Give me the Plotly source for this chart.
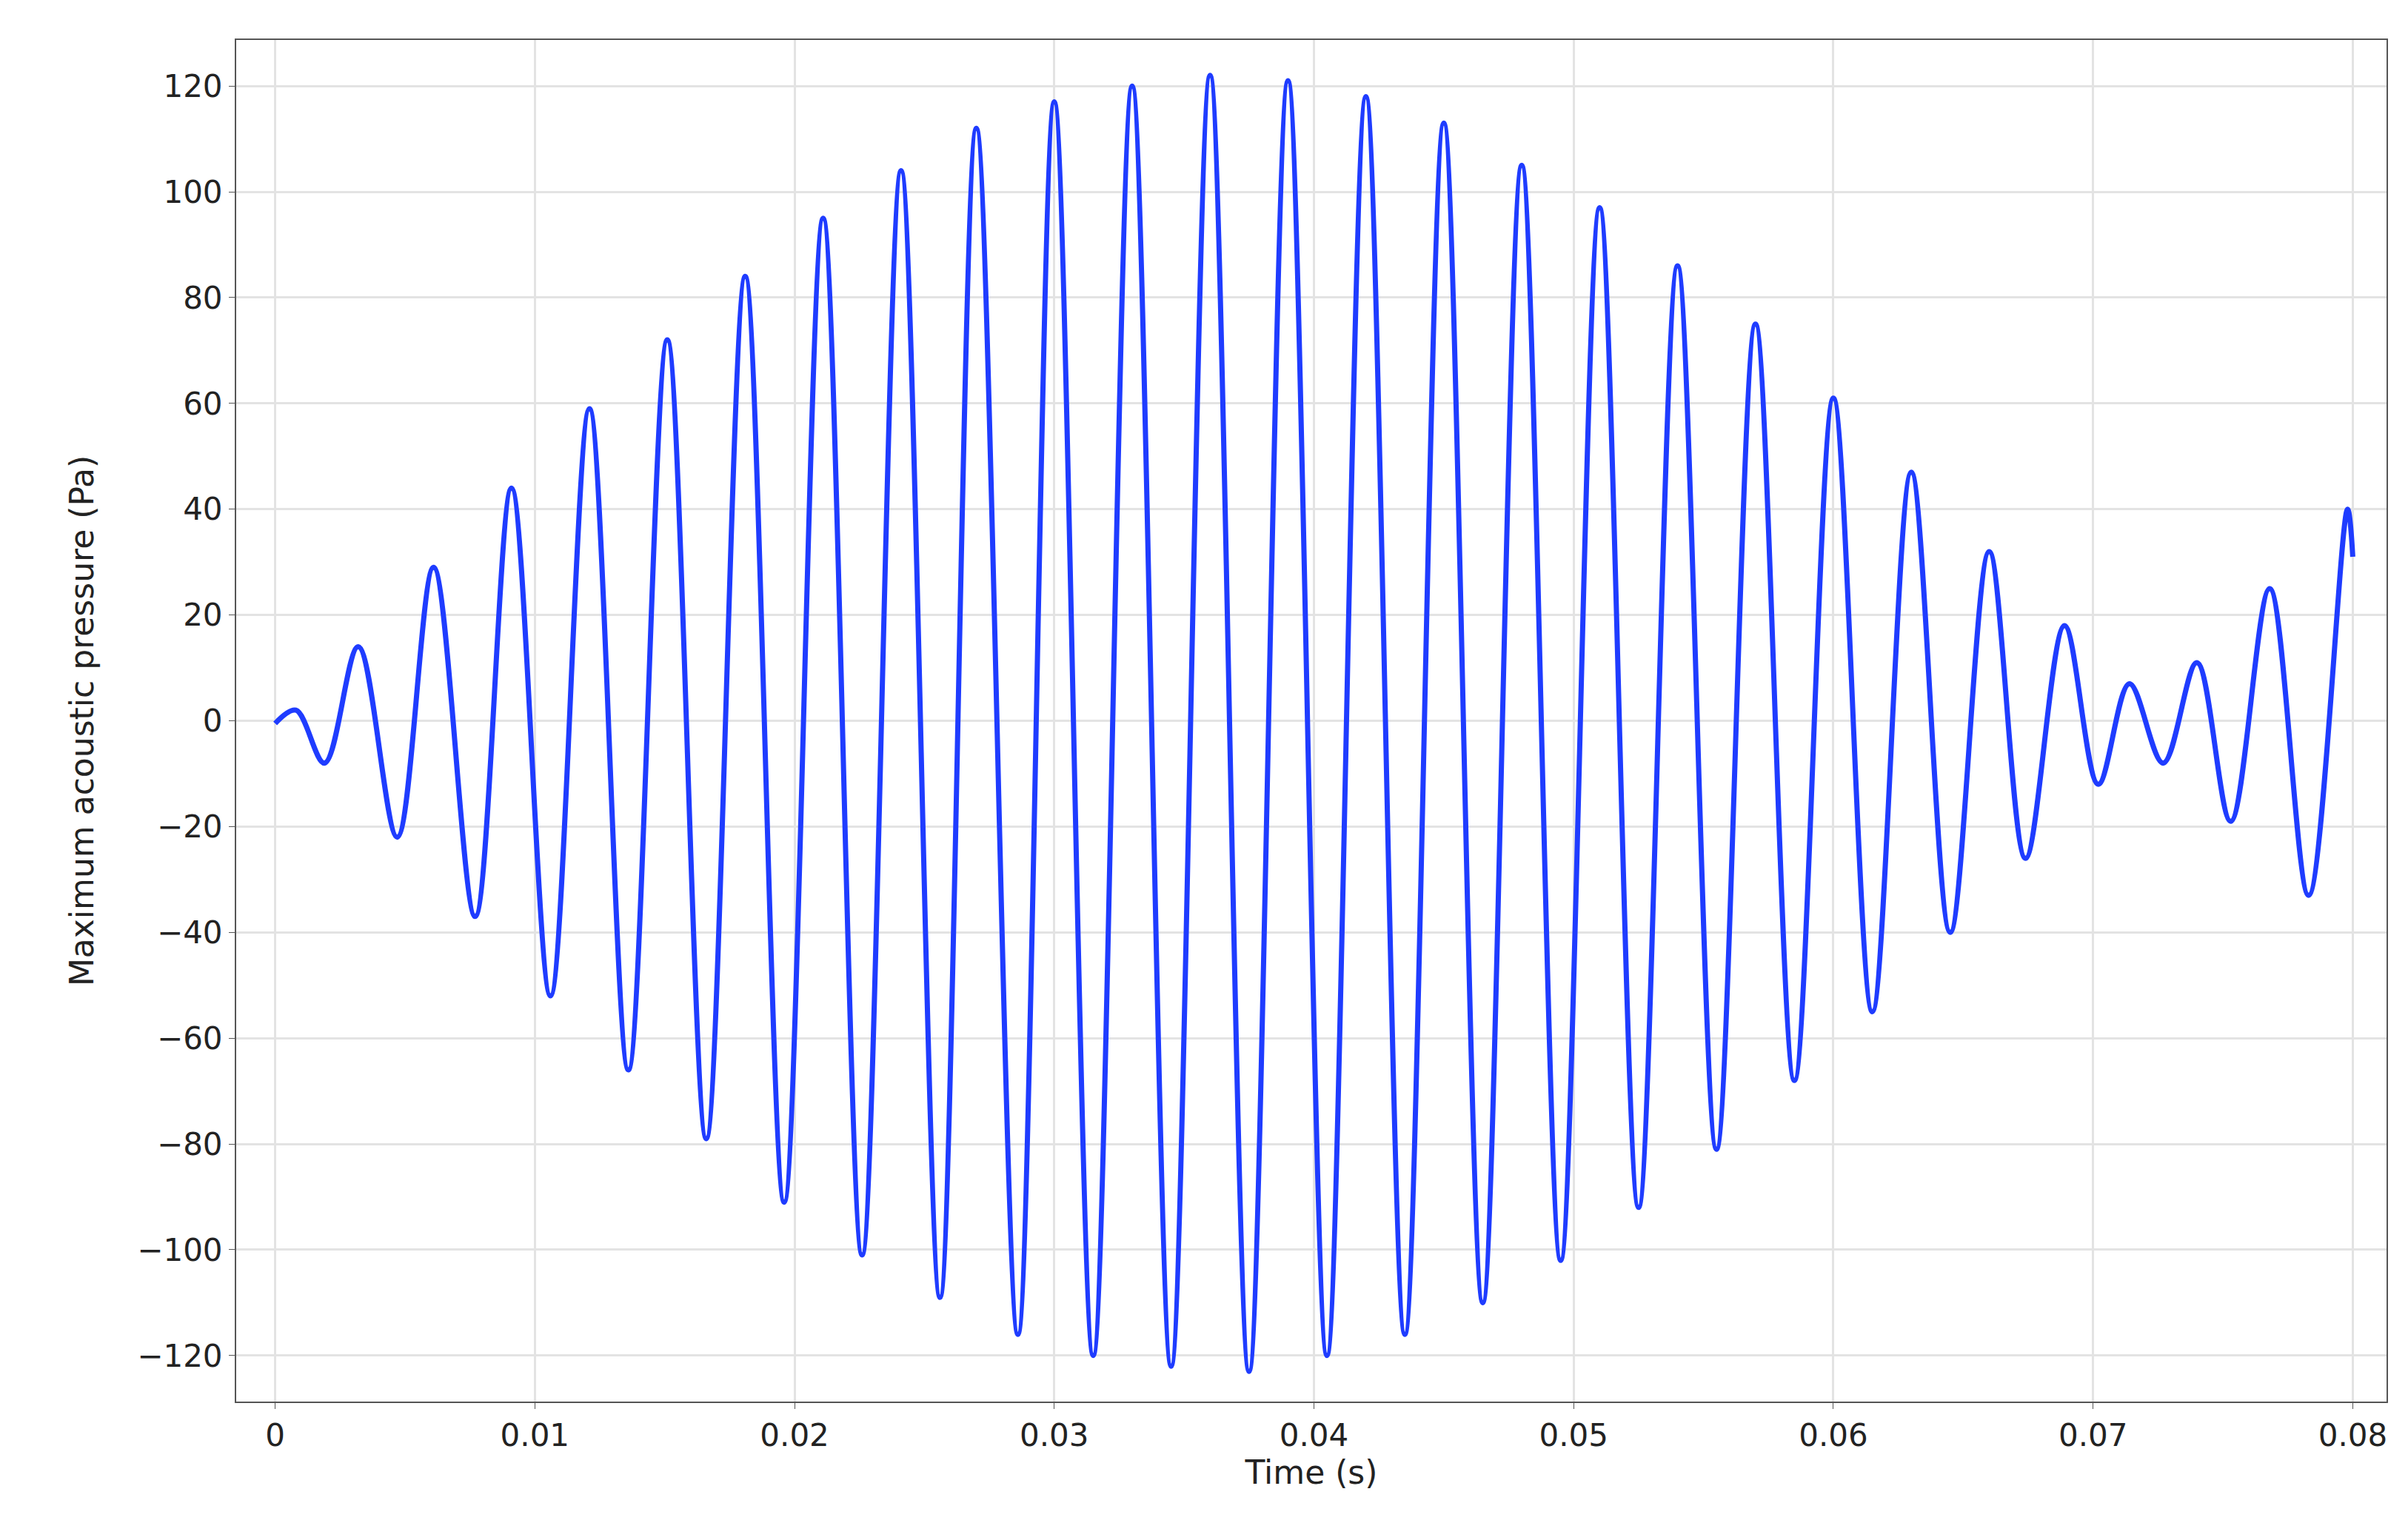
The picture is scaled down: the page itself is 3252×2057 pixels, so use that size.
import plotly.graph_objects as go

# extrema (time in s, pressure in Pa)
peak_t = [0.0008, 0.0032, 0.0061, 0.0091, 0.0121, 0.0151, 0.0181, 0.0211, 0.0241, 0.0270,
          0.0300, 0.0330, 0.0360, 0.0390, 0.0420, 0.0450, 0.0480, 0.0510, 0.0540, 0.0570,
          0.0600, 0.0630, 0.0660, 0.0689, 0.0714, 0.0740, 0.0768, 0.0798]
peak_p = [2, 14, 29, 44, 59, 72, 84, 95, 104, 112,
          117, 120, 122, 121, 118, 113, 105, 97, 86, 75,
          61, 47, 32, 18, 7, 11, 25, 40]
trough_t = [0.0, 0.0019, 0.0047, 0.0077, 0.0106, 0.0136, 0.0166, 0.0196, 0.0226, 0.0256,
            0.0286, 0.0315, 0.0345, 0.0375, 0.0405, 0.0435, 0.0465, 0.0495, 0.0525, 0.0555,
            0.0585, 0.0615, 0.0645, 0.0674, 0.0702, 0.0727, 0.0753, 0.0783]
trough_p = [-0.5, -8, -22, -37, -52, -66, -79, -91, -101, -109,
            -116, -120, -122, -123, -120, -116, -110, -102, -92, -81,
            -68, -55, -40, -26, -12, -8, -19, -33]
end_t = [0.0800]
end_p = [31]

x_ticks = [0, 0.01, 0.02, 0.03, 0.04, 0.05, 0.06, 0.07, 0.08]
x_labels = ["0", "0.01", "0.02", "0.03", "0.04", "0.05", "0.06", "0.07", "0.08"]
y_ticks = [-120, -100, -80, -60, -40, -20, 0, 20, 40, 60, 80, 100, 120]

pts = sorted(zip(peak_t + trough_t + end_t, peak_p + trough_p + end_p))
t = [a for a, b in pts]
p = [b for a, b in pts]

fig = go.Figure(go.Scatter(x=t, y=p, mode="lines", line=dict(color="#1f3cff", width=7, shape="spline", smoothing=1.0)))

axis_common = dict(showline=True, linecolor="#555", linewidth=2, mirror=True,
                   showgrid=True, gridcolor="#e3e3e3", gridwidth=3, zeroline=False,
                   ticks="outside", tickcolor="#555", ticklen=8,
                   tickfont=dict(size=42, color="#222"))

fig.update_xaxes(range=[-0.0015, 0.0813], tickvals=x_ticks, ticktext=x_labels,
                 title=dict(text="Time (s)", font=dict(size=44, color="#222"), standoff=10), **axis_common)
fig.update_yaxes(range=[-128.7, 128.7], tickvals=y_ticks, ticktext=[str(v).replace("-", "\u2212") for v in y_ticks],
                 title=dict(text="Maximum acoustic pressure (Pa)", font=dict(size=44, color="#222"), standoff=45), **axis_common)

fig.update_layout(width=3252, height=2057, plot_bgcolor="white", paper_bgcolor="white",
                  margin=dict(l=311, r=37, t=46, b=172), showlegend=False,
                  font=dict(family="DejaVu Sans"))
fig.write_html("out.html")
